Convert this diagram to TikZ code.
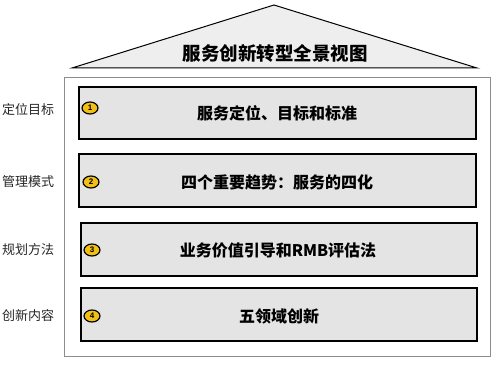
\documentclass[tikz,border=0pt]{standalone}
\usepackage{fontspec}
\setmainfont{Noto Sans CJK SC}
\newfontfamily\cjk{Noto Sans CJK SC}
\newfontfamily\arialish{Liberation Sans}
\usetikzlibrary{shapes.geometric}
\definecolor{boxgray}{HTML}{E4E4E4}
\definecolor{roofgray}{HTML}{EEEEEE}
\definecolor{framegray}{HTML}{8C8C8C}
\definecolor{gold}{HTML}{F2C014}
\begin{document}
\begin{tikzpicture}[x=1pt,y=-1pt,
  stepbox/.style={draw=black,fill=boxgray,line width=1.2pt},
  boxtext/.style={font=\cjk\bfseries\fontsize{16}{18}\selectfont,inner sep=0pt},
  sidelabel/.style={font=\cjk\fontsize{13}{15}\selectfont,text=black!85,anchor=west,inner sep=0pt},
  badge/.style={ellipse,draw=black,fill=gold,line width=1.2pt,minimum width=16pt,minimum height=12pt,inner sep=0pt,font=\arialish\bfseries\fontsize{8}{8}\selectfont}]
\useasboundingbox (0,0) rectangle (500,366);
% roof
\draw[fill=roofgray,line width=1pt] (72,68) -- (274,5) -- (477,68) -- cycle;
\node[font=\cjk\bfseries\fontsize{18.5}{20}\selectfont,inner sep=0pt] (title) at (275,53) {服务创新转型全景视图};
% frame
\draw[framegray,line width=0.9pt] (64,77) rectangle (490,356);
% boxes
\draw[stepbox] (79,87) rectangle (476,139);
\draw[stepbox] (79,154) rectangle (476,207);
\draw[stepbox] (81,223) rectangle (477,276);
\draw[stepbox] (81,288) rectangle (477,341);
\node[boxtext] (t1) at (277,113) {服务定位、目标和标准};
\node[boxtext] (t2) at (277,182) {四个重要趋势：服务的四化};
\node[boxtext] (t3) at (278,250) {业务价值引导和RMB评估法};
\node[boxtext] (t4) at (279,316) {五领域创新};
\node[badge] (b1) at (90,108) {1};
\node[badge] (b2) at (91,182) {2};
\node[badge] (b3) at (92,250) {3};
\node[badge] (b4) at (92,316) {4};
\node[sidelabel] (l1) at (2,110) {定位目标};
\node[sidelabel] (l2) at (2,182) {管理模式};
\node[sidelabel] (l3) at (2,250) {规划方法};
\node[sidelabel] (l4) at (2,316) {创新内容};
\end{tikzpicture}
\end{document}
